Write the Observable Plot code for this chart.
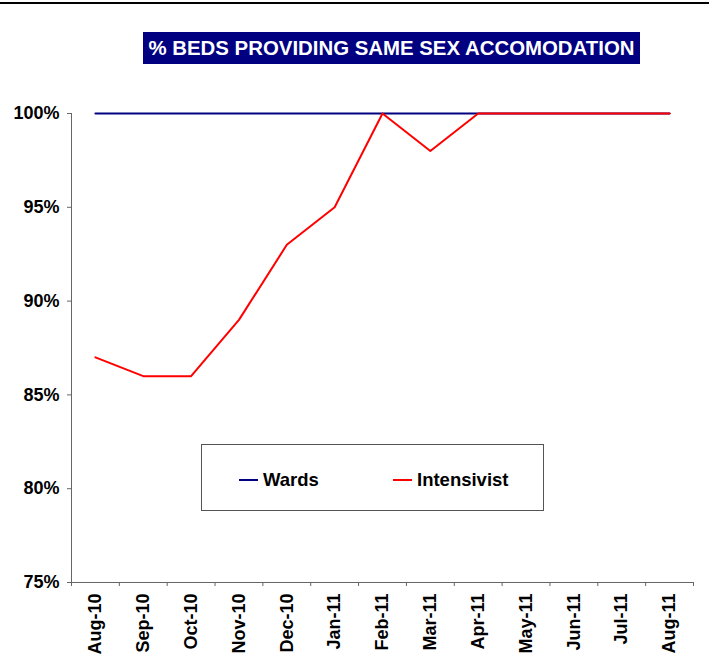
<!DOCTYPE html>
<html>
<head>
<meta charset="utf-8">
<script src="https://cdn.jsdelivr.net/npm/d3@7"></script>
<script src="https://cdn.jsdelivr.net/npm/@observablehq/plot@0.6"></script>
<style>
  html, body { margin: 0; padding: 0; background: #fff; }
  body { font-family: "Liberation Sans", Arial, sans-serif; }
  #wrap { position: relative; width: 709px; height: 668px; overflow: hidden; }
  #topline { position: absolute; left: 0; top: 2px; width: 709px; height: 2px; background: #000; }
  #title { position: absolute; left: 143px; top: 32px; width: 497px; height: 32px; line-height: 32px;
           background: #000080; color: #fff; font-weight: bold; font-size: 20.4px; text-align: center; white-space: nowrap; }
  #legend { position: absolute; left: 201px; top: 444px; width: 343px; height: 67px; border: 1px solid #555; box-sizing: border-box; background: #fff; }
  .item { position: absolute; top: 2px; height: 65px; display: flex; align-items: center; font-weight: bold; font-size: 18.5px; color: #000; }
  .swatch { display: inline-block; width: 19px; height: 2px; margin-right: 5px; }
  #chart { position: absolute; left: 0; top: 0; }
</style>
</head>
<body>
<div id="wrap">
  <div id="chart"></div>
  <div id="topline"></div>
  <div id="title"></div>
  <div id="legend"></div>
</div>
<script>
const titleText = "% BEDS PROVIDING SAME SEX ACCOMODATION";
const months = ["Aug-10","Sep-10","Oct-10","Nov-10","Dec-10","Jan-11","Feb-11","Mar-11","Apr-11","May-11","Jun-11","Jul-11","Aug-11"];
const wards = [100,100,100,100,100,100,100,100,100,100,100,100,100];
const intensivist = [87,86,86,89,93,95,100,98,100,100,100,100,100];
const seriesNames = ["Wards","Intensivist"];
const seriesColors = ["#000080","#ff0000"];
const yTicks = [75,80,85,90,95,100];

const rows = [];
seriesNames.forEach((s, si) => {
  const vals = si === 0 ? wards : intensivist;
  months.forEach((m, i) => rows.push({series: s, idx: i, month: m, value: vals[i]}));
});
const boundaries = months.map((m, i) => i - 0.5).concat([months.length - 0.5]);

const font = "'Liberation Sans', Arial, sans-serif";
const plot = Plot.plot({
  width: 709,
  height: 668,
  marginLeft: 71,
  marginRight: 16,
  marginTop: 113,
  marginBottom: 86,
  style: {fontFamily: font, background: "transparent", overflow: "visible"},
  x: {type: "linear", domain: [-0.5, months.length - 0.5], axis: null},
  y: {domain: [75, 100], axis: null},
  marks: [
    Plot.ruleX([-0.5], {y1: 75, y2: 100, stroke: "#666", strokeWidth: 1}),
    Plot.ruleY([75], {x1: -0.5, x2: months.length - 0.5, stroke: "#666", strokeWidth: 1}),
    Plot.axisY({ticks: yTicks, tickFormat: d => d + "%", tickSize: 4, tickPadding: 8,
      stroke: "#666", fill: "#000", fontSize: 18, fontWeight: "bold", label: null}),
    Plot.axisX({ticks: boundaries, tickFormat: () => "", tickSize: 4, stroke: "#666", label: null}),
    Plot.text(months, {x: (d, i) => i, text: d => d, frameAnchor: "bottom", rotate: -90,
      textAnchor: "end", lineAnchor: "middle", dy: 11, fontSize: 18, fontWeight: "bold", fill: "#000"}),
    Plot.line(rows, {x: "idx", y: "value", z: "series",
      stroke: d => seriesColors[seriesNames.indexOf(d.series)], strokeWidth: 2, curve: "linear"})
  ]
});
document.getElementById("chart").appendChild(plot);
document.getElementById("title").textContent = titleText;

const legend = document.getElementById("legend");
const itemLeft = [37, 191];
seriesNames.forEach((s, i) => {
  const it = document.createElement("div");
  it.className = "item";
  it.style.left = itemLeft[i] + "px";
  const sw = document.createElement("span");
  sw.className = "swatch";
  sw.style.background = seriesColors[i];
  it.appendChild(sw);
  it.appendChild(document.createTextNode(s));
  legend.appendChild(it);
});
</script>
</body>
</html>
